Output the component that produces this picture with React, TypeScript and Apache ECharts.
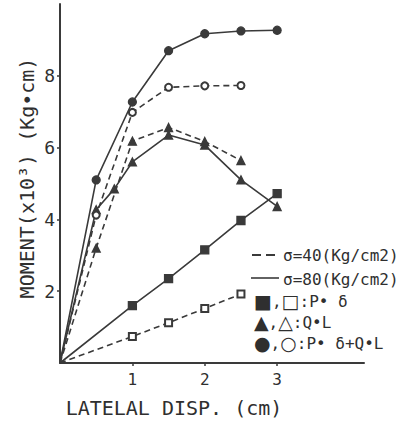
import { useEffect, useRef } from "react";
import * as echarts from "echarts";

// Tick values
const xTickValues = [1, 2, 3];
const yTickValues = [2, 4, 6, 8];

// P·δ  (squares)
const pdDisp80 = [0, 1, 1.5, 2, 2.5, 3];
const pdMoment80 = [0, 1.6, 2.35, 3.15, 3.97, 4.72];
const pdDisp40 = [0, 1, 1.5, 2, 2.5];
const pdMoment40 = [0, 0.74, 1.12, 1.52, 1.92];

// Q·L  (triangles)
const qlDisp80 = [0, 0.5, 0.75, 1, 1.5, 2, 2.5, 3];
const qlMoment80 = [0, 4.27, 4.85, 5.6, 6.35, 6.07, 5.1, 4.36];
const qlDisp40 = [0, 0.5, 1, 1.5, 2, 2.5];
const qlMoment40 = [0, 3.2, 6.18, 6.56, 6.17, 5.64];

// P·δ + Q·L  (circles)
const sumDisp80 = [0, 0.5, 1, 1.5, 2, 2.5, 3];
const sumMoment80 = [0, 5.1, 7.27, 8.7, 9.17, 9.25, 9.27];
const sumDisp40 = [0, 0.5, 1, 1.5, 2, 2.5];
const sumMoment40 = [0, 4.12, 6.98, 7.68, 7.72, 7.73];

// Texts
const xAxisTitle = "LATELAL DISP. (cm)";
const yAxisTitle = "MOMENT(x10³) (Kg•cm)";
const legendTexts = [
  "σ=40(Kg/cm2)",
  "σ=80(Kg/cm2)",
  "{s|■},{s|□}:P• δ",
  "{s|▲},{s|△}:Q•L",
  "{s|●},{s|○}:P• δ+Q•L",
];

const INK = "#3a3a3a";
const FONT = "DejaVu Sans Mono, Liberation Mono, monospace";

function pts(xs: number[], ys: number[]) {
  return xs.map((x, i) =>
    i === 0 ? { value: [x, ys[i]], symbol: "none" } : { value: [x, ys[i]] }
  );
}

function makeSeries(
  name: string,
  xs: number[],
  ys: number[],
  symbol: string,
  size: number,
  dashed: boolean
) {
  return {
    name,
    type: "line",
    data: pts(xs, ys),
    symbol,
    symbolSize: size,
    showAllSymbol: true,
    lineStyle: {
      color: INK,
      width: 1.6,
      type: dashed ? [6, 4] : "solid",
    },
    itemStyle: {
      color: INK,
      borderColor: INK,
      borderWidth: 1.3,
    },
    z: 3,
  };
}

export default function App() {
  const ref = useRef<HTMLDivElement>(null);

  useEffect(() => {
    document.body.style.margin = "0";
    if (!ref.current) return;
    const chart = echarts.init(ref.current, undefined, { renderer: "svg" });

    const legendGraphics: any[] = [
      // dashed sample
      {
        type: "line",
        shape: { x1: 252, y1: 255, x2: 261, y2: 255 },
        style: { stroke: INK, lineWidth: 2 },
      },
      {
        type: "line",
        shape: { x1: 266, y1: 255, x2: 275, y2: 255 },
        style: { stroke: INK, lineWidth: 2 },
      },
      // solid sample
      {
        type: "line",
        shape: { x1: 251, y1: 278, x2: 279, y2: 278 },
        style: { stroke: INK, lineWidth: 1.6 },
      },
    ];
    const legendPos = [
      [283, 255],
      [283, 279],
      [254, 301],
      [254, 322],
      [254, 343],
    ];
    legendTexts.forEach((t, i) => {
      legendGraphics.push({
        type: "text",
        x: legendPos[i][0],
        y: legendPos[i][1],
        style: {
          text: t,
          fill: "#2f2f2f",
          font: `16px ${FONT}`,
          textAlign: "left",
          textVerticalAlign: "middle",
          rich: {
            s: {
              fontSize: 19,
              fontFamily: "DejaVu Sans, sans-serif",
              fill: "#2f2f2f",
              color: "#2f2f2f",
            },
          },
        },
      });
    });

    chart.setOption({
      animation: false,
      backgroundColor: "#ffffff",
      grid: { left: 60, top: 4, width: 304, height: 359 },
      xAxis: {
        type: "value",
        min: 0,
        max: 4.2,
        interval: 1,
        axisLine: { show: true, lineStyle: { color: INK, width: 2 } },
        axisTick: {
          show: true,
          length: 3,
          customValues: xTickValues,
          lineStyle: { color: INK, width: 1.5 },
        },
        axisLabel: {
          customValues: xTickValues,
          color: "#2f2f2f",
          fontSize: 16,
          fontFamily: FONT,
          margin: 8,
        },
        splitLine: { show: false },
      },
      yAxis: {
        type: "value",
        min: 0,
        max: 10,
        interval: 2,
        axisLine: { show: true, lineStyle: { color: INK, width: 2 } },
        axisTick: {
          show: true,
          length: 3,
          customValues: yTickValues,
          lineStyle: { color: INK, width: 1.5 },
        },
        axisLabel: {
          customValues: yTickValues,
          color: "#2f2f2f",
          fontSize: 18,
          fontFamily: FONT,
          margin: 5,
        },
        splitLine: { show: false },
      },
      graphic: [
        {
          type: "text",
          x: 27,
          y: 178,
          rotation: Math.PI / 2,
          style: {
            text: yAxisTitle,
            fill: "#2f2f2f",
            font: `20px ${FONT}`,
            textAlign: "center",
            textVerticalAlign: "middle",
          },
        },
        {
          type: "text",
          x: 174,
          y: 408,
          style: {
            text: xAxisTitle,
            fill: "#2f2f2f",
            font: `20px ${FONT}`,
            textAlign: "center",
            textVerticalAlign: "middle",
          },
        },
        ...legendGraphics,
      ],
      series: [
        makeSeries("P·δ σ=80", pdDisp80, pdMoment80, "rect", 8, false),
        makeSeries("P·δ σ=40", pdDisp40, pdMoment40, "emptyRect", 7, true),
        makeSeries("Q·L σ=80", qlDisp80, qlMoment80, "triangle", 8, false),
        makeSeries("Q·L σ=40", qlDisp40, qlMoment40, "triangle", 8, true),
        makeSeries("P·δ+Q·L σ=80", sumDisp80, sumMoment80, "circle", 8, false),
        makeSeries("P·δ+Q·L σ=40", sumDisp40, sumMoment40, "emptyCircle", 7, true),
      ],
    });

    return () => {
      chart.dispose();
    };
  }, []);

  return <div ref={ref} style={{ width: 407, height: 424 }} />;
}
